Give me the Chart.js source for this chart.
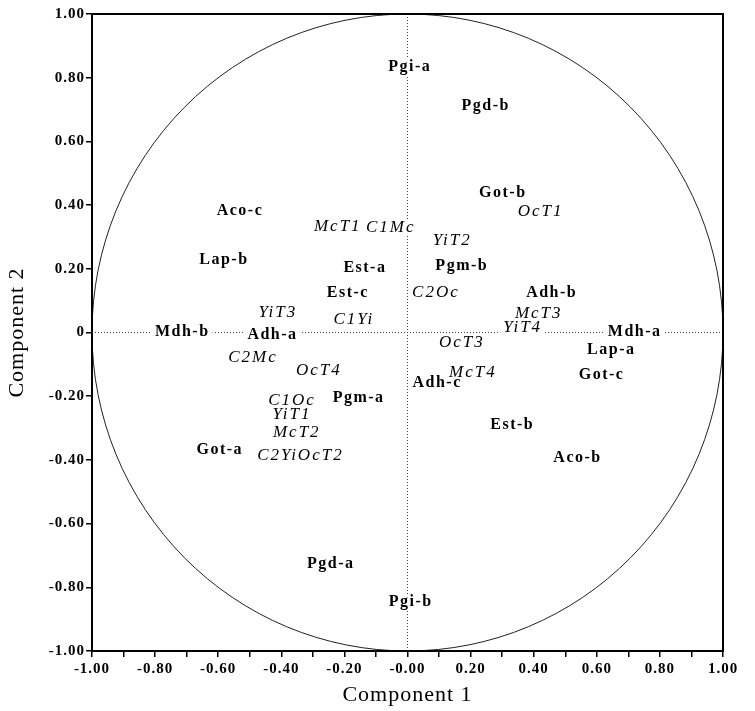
<!DOCTYPE html>
<html>
<head>
<meta charset="utf-8">
<script src="https://cdn.jsdelivr.net/npm/chart.js@4"></script>
<style>
  html, body { margin: 0; padding: 0; background: #fff; }
  #wrap { width: 755px; height: 711px; }
</style>
</head>
<body>
<div id="wrap"><canvas id="c" width="755" height="711"></canvas></div>
<script>
// ---- Data ----
const lociNames = ['Pgi-a','Pgd-b','Got-b','Aco-c','Lap-b','Est-a','Pgm-b','Est-c','Adh-b','Mdh-b','Mdh-a','Adh-a','Lap-a','Got-c','Adh-c','Pgm-a','Est-b','Got-a','Aco-b','Pgd-a','Pgi-b'];
const lociX = [0.007, 0.248, 0.302, -0.531, -0.582, -0.135, 0.172, -0.189, 0.457, -0.714, 0.720, -0.428, 0.646, 0.615, 0.094, -0.155, 0.332, -0.595, 0.539, -0.243, 0.010];
const lociY = [0.834, 0.711, 0.437, 0.381, 0.228, 0.202, 0.208, 0.124, 0.124, 0.001, 0.001, -0.008, -0.055, -0.134, -0.159, -0.206, -0.291, -0.370, -0.395, -0.725, -0.847];

const popNames = ['OcT1','McT1','C1Mc','YiT2','C2Oc','YiT3','McT3','C1Yi','YiT4','OcT3','C2Mc','OcT4','McT4','C1Oc','YiT1','McT2','C2Yi','OcT2'];
const popX = [0.422, -0.221, -0.053, 0.142, 0.090, -0.411, 0.416, -0.170, 0.365, 0.172, -0.490, -0.281, 0.207, -0.366, -0.366, -0.351, -0.412, -0.275];
const popY = [0.381, 0.334, 0.331, 0.290, 0.127, 0.064, 0.061, 0.042, 0.017, -0.030, -0.080, -0.118, -0.127, -0.213, -0.257, -0.313, -0.385, -0.385];

const xTickLabels = ['-1.00','','-0.80','','-0.60','','-0.40','','-0.20','','-0.00','','0.20','','0.40','','0.60','','0.80','','1.00'];
const yTickLabels = ['-1.00','-0.80','-0.60','-0.40','-0.20','0','0.20','0.40','0.60','0.80','1.00'];
const xTitle = 'Component 1';
const yTitle = 'Component 2';
const circleRadius = 1;
const axisMin = -1, axisMax = 1;

function toPoints(xs, ys) { return xs.map((x, i) => ({ x: x, y: ys[i] })); }

const serif = '"Liberation Serif", "Times New Roman", serif';

// Unit circle drawn through the scales
const circlePlugin = {
  id: 'circle',
  beforeDatasetsDraw(chart) {
    const { ctx, scales: { x, y } } = chart;
    const cx = x.getPixelForValue(0), cy = y.getPixelForValue(0);
    const rx = x.getPixelForValue(circleRadius) - cx;
    const ry = y.getPixelForValue(0) - y.getPixelForValue(circleRadius);
    ctx.save();
    ctx.beginPath();
    ctx.ellipse(cx, cy, rx, ry, 0, 0, Math.PI * 2);
    ctx.lineWidth = 1;
    ctx.strokeStyle = '#222';
    ctx.stroke();
    ctx.restore();
  }
};

// Text labels at the points
const labelPlugin = {
  id: 'pointLabels',
  afterDatasetsDraw(chart) {
    const { ctx } = chart;
    const items = [];
    chart.data.datasets.forEach((ds, di) => {
      if (!ds.names) return;
      const meta = chart.getDatasetMeta(di);
      meta.data.forEach((pt, i) => {
        items.push({ x: pt.x, y: pt.y, text: ds.names[i], font: ds.labelFont, spacing: ds.labelSpacing });
      });
    });
    ctx.save();
    ctx.textAlign = 'center';
    ctx.textBaseline = 'middle';
    // white backgrounds first (break the dotted axis lines)
    items.forEach(it => {
      ctx.font = it.font;
      ctx.letterSpacing = it.spacing;
      const w = ctx.measureText(it.text).width;
      ctx.fillStyle = '#fff';
      ctx.fillRect(it.x - w / 2 - 3, it.y - 8, w + 6, 16);
    });
    items.forEach(it => {
      ctx.font = it.font;
      ctx.letterSpacing = it.spacing;
      ctx.fillStyle = '#000';
      ctx.fillText(it.text, it.x, it.y);
    });
    ctx.restore();
  }
};

// Frame around plot area + letter spacing for axis text
const framePlugin = {
  id: 'frame',
  beforeDraw(chart) {
    chart.ctx.letterSpacing = '1px';
    const { ctx, width, height } = chart;
    ctx.save();
    ctx.fillStyle = '#fff';
    ctx.fillRect(0, 0, width, height);
    ctx.restore();
  },
  afterDraw(chart) {
    const { ctx, chartArea: a } = chart;
    ctx.save();
    ctx.letterSpacing = '0px';
    ctx.lineWidth = 2;
    ctx.strokeStyle = '#000';
    ctx.strokeRect(a.left, a.top, a.right - a.left, a.bottom - a.top);
    ctx.restore();
  }
};

new Chart(document.getElementById('c'), {
  type: 'scatter',
  data: {
    datasets: [
      {
        type: 'line',
        data: [{ x: axisMin, y: 0 }, { x: axisMax, y: 0 }],
        borderColor: '#444', borderWidth: 1, borderDash: [1, 2],
        pointRadius: 0, fill: false
      },
      {
        type: 'line',
        data: [{ x: 0, y: axisMin }, { x: 0, y: axisMax }],
        borderColor: '#444', borderWidth: 1, borderDash: [1, 2],
        pointRadius: 0, fill: false
      },
      {
        label: 'Loci',
        data: toPoints(lociX, lociY),
        names: lociNames,
        labelFont: 'bold 16px ' + serif,
        labelSpacing: '1.5px',
        pointRadius: 0
      },
      {
        label: 'Populations',
        data: toPoints(popX, popY),
        names: popNames,
        labelFont: 'italic 17px ' + serif,
        labelSpacing: '2px',
        pointRadius: 0
      }
    ]
  },
  options: {
    responsive: false,
    animation: false,
    devicePixelRatio: 1,
    layout: { padding: { left: 0, top: 14, right: 32, bottom: 0 } },
    plugins: {
      legend: { display: false },
      tooltip: { enabled: false }
    },
    scales: {
      x: {
        type: 'linear',
        min: axisMin, max: axisMax,
        afterFit(s) { s.height = 60; },
        ticks: {
          stepSize: 0.1,
          autoSkip: false,
          maxRotation: 0,
          padding: 3,
          color: '#000',
          font: { family: serif, size: 15, weight: 'bold' },
          callback: (v, i) => xTickLabels[i]
        },
        grid: { drawOnChartArea: false, drawTicks: true, tickLength: 6, color: '#000', lineWidth: 1.5 },
        border: { display: true, color: '#000', width: 2 },
        title: {
          display: true, text: xTitle, color: '#000',
          font: { family: serif, size: 22, weight: 'normal' },
          padding: { top: 0, bottom: 3 }
        }
      },
      y: {
        type: 'linear',
        min: axisMin, max: axisMax,
        afterFit(s) { s.width = 92; },
        ticks: {
          stepSize: 0.2,
          autoSkip: false,
          padding: 1,
          color: '#000',
          font: { family: serif, size: 15, weight: 'bold' },
          callback: (v, i) => yTickLabels[i]
        },
        grid: { drawOnChartArea: false, drawTicks: true, tickLength: 6, color: '#000', lineWidth: 1.5 },
        border: { display: true, color: '#000', width: 2 },
        title: {
          display: true, text: yTitle, color: '#000',
          font: { family: serif, size: 22, weight: 'normal' },
          padding: { top: 4, bottom: 0 }
        }
      }
    }
  },
  plugins: [framePlugin, circlePlugin, labelPlugin]
});
</script>
</body>
</html>
